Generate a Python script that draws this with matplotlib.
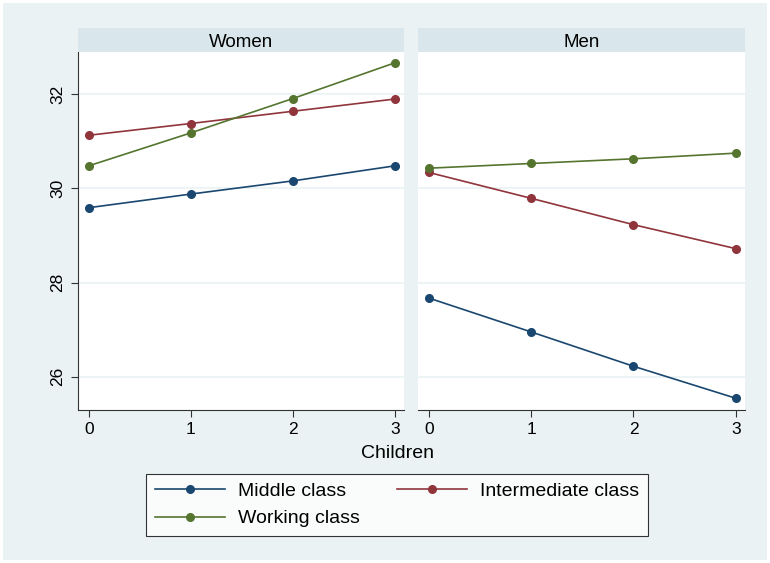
import matplotlib.pyplot as plt
from matplotlib.lines import Line2D
from matplotlib.patches import Rectangle

plt.rcParams['font.family'] = ['Liberation Sans', 'DejaVu Sans']

children = [0, 1, 2, 3]
classes = ["Middle class", "Intermediate class", "Working class"]
colors = ["#1A476F", "#90353B", "#55752F"]

women = {
    "Middle class": [29.59, 29.88, 30.16, 30.48],
    "Intermediate class": [31.13, 31.38, 31.64, 31.90],
    "Working class": [30.48, 31.18, 31.91, 32.67],
}
men = {
    "Middle class": [27.67, 26.95, 26.22, 25.54],
    "Intermediate class": [30.34, 29.79, 29.23, 28.72],
    "Working class": [30.43, 30.53, 30.63, 30.75],
}
yticks = [26, 28, 30, 32]

W, H = 770, 563
bg = "#EAF2F3"
strip_col = "#D9E6EB"

fig = plt.figure(figsize=(W / 100, H / 100), dpi=100, facecolor="white")
fig.patches.append(Rectangle((3 / W, 3 / H), 1 - 6 / W, 1 - 6 / H,
                             transform=fig.transFigure, facecolor=bg,
                             edgecolor="none", zorder=-10))


def px_box(x0, y0, x1, y1):
    return [x0 / W, 1 - y1 / H, (x1 - x0) / W, (y1 - y0) / H]


panels = [("Women", women, 78, 404), ("Men", men, 418, 745)]
axes = []
for i, (title, data, x0, x1) in enumerate(panels):
    ax = fig.add_axes(px_box(x0, 52, x1, 410))
    ax.set_facecolor("white")
    for name, col in zip(classes, colors):
        ax.plot(children, data[name], color=col, lw=1.2, marker="o",
                markersize=5.5, zorder=3)
    ax.set_xlim(-0.105, 3.09)
    ax.set_ylim(25.29, 32.9)
    ax.set_yticks(yticks)
    ax.set_xticks(children)
    ax.grid(axis="y", color=bg, lw=1.2)
    ax.tick_params(axis="both", labelsize=12.5, color="#333333", length=5,
                   width=0.8, pad=4)
    for s in ["top", "right"]:
        ax.spines[s].set_visible(False)
    ax.spines["bottom"].set_color("#333333")
    ax.spines["left"].set_color("#333333")
    if i == 0:
        for lab in ax.get_yticklabels():
            lab.set_rotation(90)
            lab.set_va("center")
    else:
        ax.spines["left"].set_visible(False)
        ax.tick_params(axis="y", left=False, labelleft=False)
    # panel strip
    sax = fig.add_axes(px_box(x0, 28, x1, 52))
    sax.set_facecolor(strip_col)
    sax.set_xticks([])
    sax.set_yticks([])
    for s in sax.spines.values():
        s.set_visible(False)
    sax.text(0.5, 0.4, title, ha="center", va="center", fontsize=13.5,
             transform=sax.transAxes)
    axes.append(ax)

fig.text(398 / W, 1 - 454 / H, "Children", ha="center", va="center",
         fontsize=14)

handles = [Line2D([], [], color=c, lw=1.2, marker="o", markersize=5.5)
           for c in colors]
order = [0, 2, 1]
leg = fig.legend([handles[k] for k in order], [classes[k] for k in order],
                 ncol=2, loc="center",
                 bbox_to_anchor=(397 / W, 1 - 505 / H),
                 fontsize=14, frameon=True, fancybox=False,
                 handlelength=3.6, handletextpad=0.67, columnspacing=1.9,
                 borderaxespad=0, labelspacing=0.5, borderpad=0.45)
leg.get_frame().set_edgecolor("black")
leg.get_frame().set_linewidth(0.8)
leg.get_frame().set_facecolor("white")

fig.savefig("out.png", dpi=100, facecolor=fig.get_facecolor())
